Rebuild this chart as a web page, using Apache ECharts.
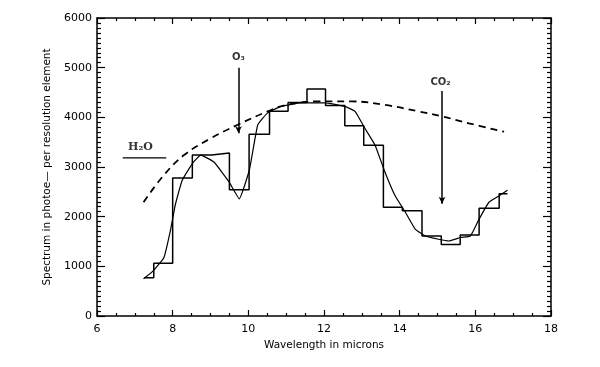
<!DOCTYPE html>
<html>
<head>
<meta charset="utf-8">
<script src="https://cdn.jsdelivr.net/npm/echarts@6/dist/echarts.min.js"></script>
<style>
html,body{margin:0;padding:0;background:#fff;}
#c{width:600px;height:367px;}
</style>
</head>
<body>
<div id="c"></div>
<script>
// Histogram (binned spectrum) edges and values
const stepEdges = [7.25, 7.5, 8.0, 8.52, 9.03, 9.5, 10.02, 10.56, 11.05, 11.55, 12.04, 12.55, 13.05, 13.57, 14.07, 14.59, 15.1, 15.6, 16.1, 16.63, 16.85];
const stepValues = [770, 1060, 2780, 3240, 3280, 2540, 3660, 4120, 4300, 4570, 4240, 3830, 3440, 2190, 2120, 1610, 1440, 1630, 2170, 2460];
// Smooth spectrum curve
const fitX = [7.23, 7.5, 7.77, 7.94, 8.07, 8.25, 8.52, 8.74, 9.09, 9.49, 9.76, 10.03, 10.25, 10.51, 10.87, 11.4, 12.02, 12.55, 12.82, 13.08, 13.35, 13.61, 13.88, 14.15, 14.41, 14.68, 15.03, 15.3, 15.61, 15.87, 16.1, 16.36, 16.63, 16.85];
const fitY = [750, 920, 1180, 1720, 2240, 2730, 3070, 3240, 3100, 2700, 2360, 2950, 3850, 4090, 4220, 4290, 4290, 4220, 4120, 3780, 3440, 2900, 2420, 2090, 1750, 1610, 1545, 1510, 1580, 1610, 1950, 2290, 2420, 2530];
// Dashed continuum curve
const dashX = [7.23, 7.76, 8.3, 9.01, 9.72, 10.51, 11.0, 11.85, 12.73, 13.61, 14.5, 15.12, 15.83, 16.76];
const dashY = [2290, 2830, 3240, 3580, 3850, 4120, 4250, 4320, 4320, 4250, 4120, 4020, 3880, 3710];
// Annotations
const h2oBar = [[6.68, 3185], [7.83, 3185]];
const labelTexts = ['H\u2082O', 'O\u2083', 'CO\u2082'];
const labelPos = [[7.15, 3400], [9.74, 5200], [15.08, 4700]];
const arrowO3 = [[9.74, 5000], [9.74, 3680]];
const arrowCO2 = [[15.12, 4530], [15.12, 2260]];
const xTicks = {min: 6, max: 18, interval: 2};
const yTicks = {min: 0, max: 6000, interval: 1000};

const stepData = [];
for (let i = 0; i < stepValues.length; i++) {
  stepData.push([stepEdges[i], stepValues[i]]);
  stepData.push([stepEdges[i + 1], stepValues[i]]);
}
const fitData = fitX.map((x, i) => [x, fitY[i]]);
const dashData = dashX.map((x, i) => [x, dashY[i]]);

const font = 'DejaVu Sans';
function xAxisDef(pos, showLabel) {
  return {
    type: 'value', position: pos, min: xTicks.min, max: xTicks.max, interval: xTicks.interval,
    name: showLabel ? 'Wavelength in microns' : '', nameLocation: 'middle', nameGap: 22,
    nameTextStyle: {fontFamily: font, fontSize: 10.5, color: '#000'},
    axisLine: {show: true, onZero: false, lineStyle: {color: '#000', width: 1.5}},
    axisTick: {show: true, inside: true, length: 6, lineStyle: {color: '#000', width: 1.2}},
    minorTick: {show: true, splitNumber: 4, length: 3, lineStyle: {color: '#000', width: 1.2}},
    axisLabel: {show: showLabel, fontFamily: font, fontSize: 11, color: '#000', margin: 8, formatter: v => String(v)},
    splitLine: {show: false}, minorSplitLine: {show: false}
  };
}
function yAxisDef(pos, showLabel) {
  return {
    type: 'value', position: pos, min: yTicks.min, max: yTicks.max, interval: yTicks.interval,
    name: showLabel ? 'Spectrum in photoe\u2014 per resolution element' : '', nameLocation: 'middle', nameGap: 44,
    nameTextStyle: {fontFamily: font, fontSize: 10.5, color: '#000'},
    axisLine: {show: true, onZero: false, lineStyle: {color: '#000', width: 1.5}},
    axisTick: {show: true, inside: true, length: 8, lineStyle: {color: '#000', width: 1.2}},
    minorTick: {show: true, splitNumber: 10, length: 4, lineStyle: {color: '#000', width: 1.2}},
    axisLabel: {show: showLabel, fontFamily: font, fontSize: 11, color: '#000', margin: 5, formatter: v => String(v)},
    splitLine: {show: false}, minorSplitLine: {show: false}
  };
}

const chart = echarts.init(document.getElementById('c'), null, {renderer: 'canvas'});
chart.setOption({
  animation: false,
  backgroundColor: '#fff',
  grid: {left: 97, right: 49, top: 18, bottom: 51},
  xAxis: [xAxisDef('bottom', true), xAxisDef('top', false)],
  yAxis: [yAxisDef('left', true), yAxisDef('right', false)],
  series: [
    {type: 'line', data: stepData, showSymbol: false, lineStyle: {color: '#000', width: 1.5}, z: 3},
    {type: 'line', data: fitData, smooth: 0.12, showSymbol: false, lineStyle: {color: '#000', width: 1.2}, z: 3},
    {type: 'line', data: dashData, smooth: 0.4, showSymbol: false, lineStyle: {color: '#000', width: 1.8, type: [7, 5]}, z: 3},
    {type: 'line', data: h2oBar, showSymbol: false, lineStyle: {color: '#000', width: 1.3},
      markLine: {
        silent: true, symbol: ['none', 'arrow'], symbolSize: [5, 7], label: {show: false},
        lineStyle: {color: '#000', width: 1.5, type: 'solid'},
        itemStyle: {color: '#000'},
        data: [
          [{coord: arrowO3[0], symbol: 'none'}, {coord: arrowO3[1], symbol: 'arrow'}],
          [{coord: arrowCO2[0], symbol: 'none'}, {coord: arrowCO2[1], symbol: 'arrow'}]
        ]
      }
    },
    {type: 'scatter', symbolSize: 0, silent: true,
      data: labelPos.map((p, i) => ({
        value: p,
        label: {
          show: true, position: 'inside', formatter: labelTexts[i], color: '#000',
          fontFamily: i === 0 ? 'DejaVu Serif' : font, fontWeight: 'bold', fontSize: i === 0 ? 11 : 10
        }
      }))
    }
  ]
});
</script>
</body>
</html>
